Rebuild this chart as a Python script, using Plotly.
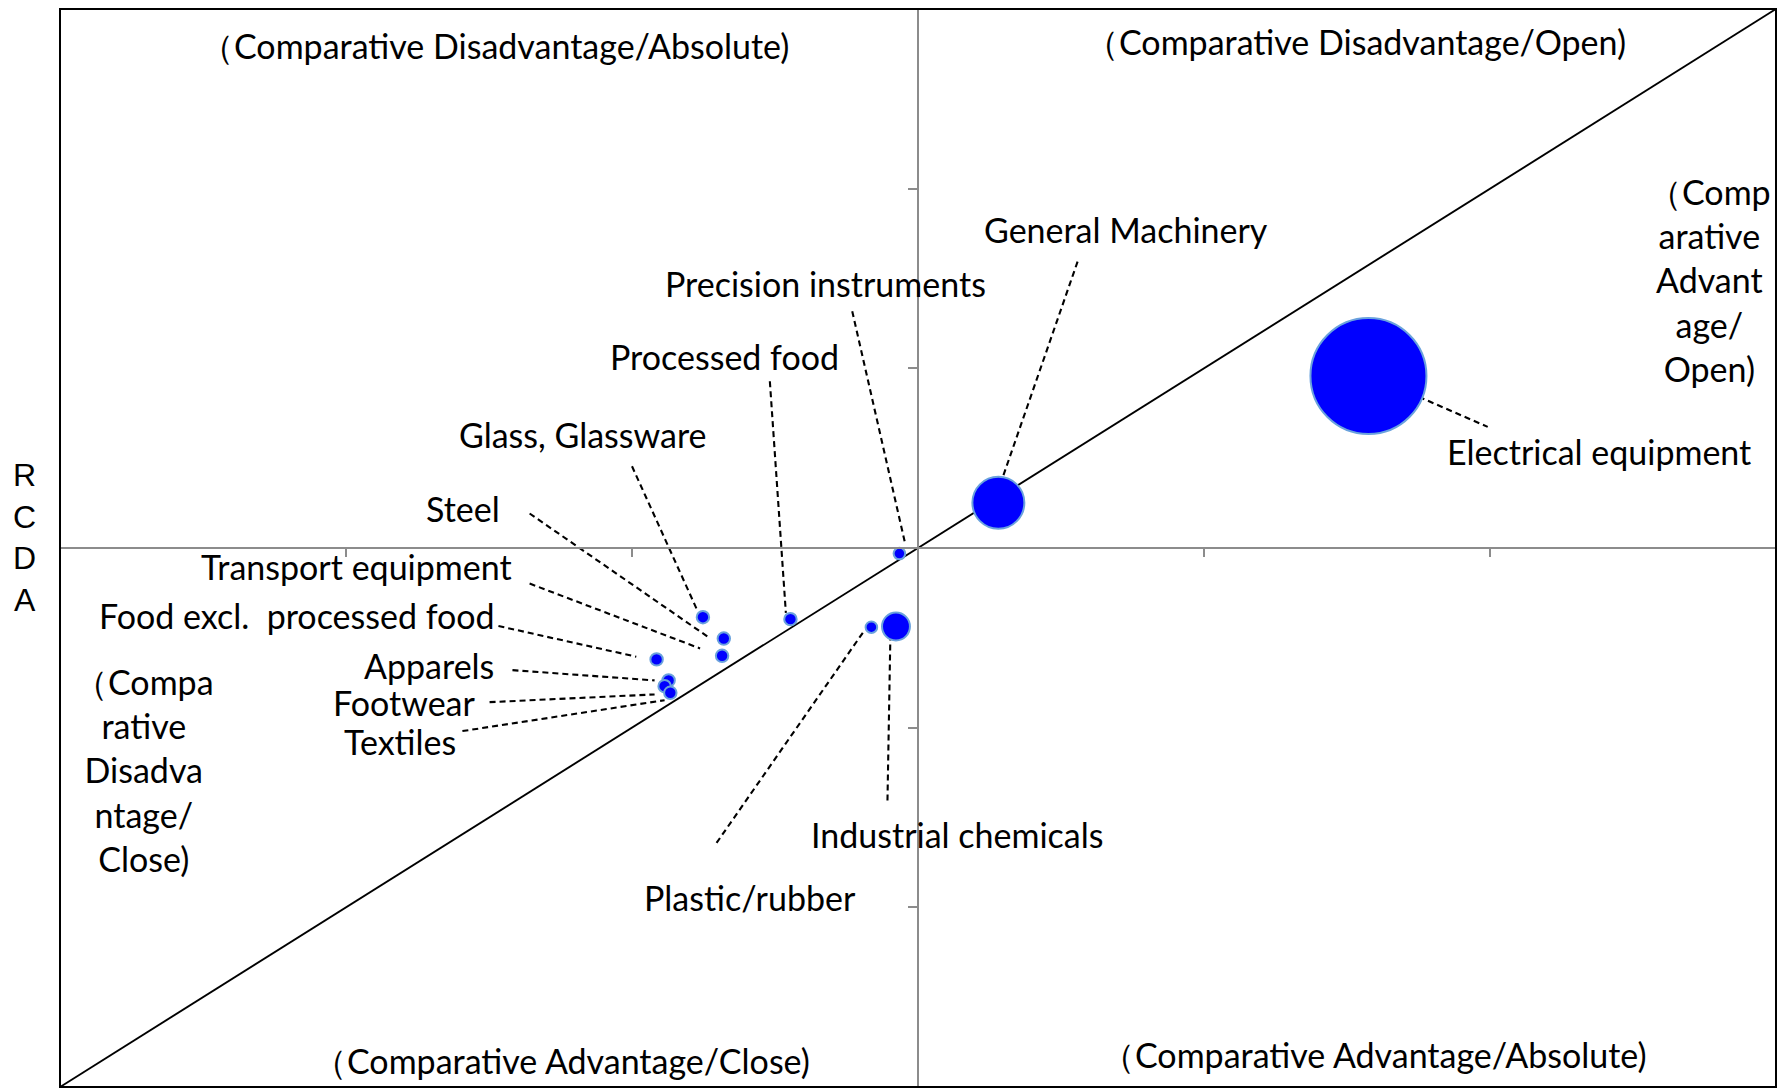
import plotly.graph_objects as go

# ---------------- data ----------------
industries = ["General Machinery", "Precision instruments", "Processed food", "Glass, Glassware",
              "Steel", "Transport equipment", "Food excl.  processed food", "Apparels",
              "Footwear", "Textiles", "Industrial chemicals", "Plastic/rubber", "Electrical equipment"]
rca = [0.281, -0.065, -0.446, -0.752, -0.679, -0.685, -0.914, -0.872, -0.886, -0.866, -0.077, -0.163, 1.575]
rcda = [0.252, -0.031, -0.396, -0.385, -0.504, -0.600, -0.620, -0.737, -0.769, -0.806, -0.437, -0.441, 0.957]
trade_value = [20.1, 1.0, 1.15, 1.15, 1.15, 1.15, 1.15, 1.15, 1.15, 1.15, 5.8, 1.0, 100.0]

# label placement (data coords) and anchors
label_x = [0.726, -0.325, -0.677, -1.171, -1.456, -1.412, -1.472, -1.477, -1.537, -1.608, 0.135, -0.586, 2.381]
label_y = [1.770, 1.472, 1.066, 0.633, 0.220, -0.103, -0.376, -0.654, -0.860, -1.075, -1.594, -1.945, 0.537]
label_anchor = ["center", "center", "center", "center", "right", "right", "right", "right",
                "right", "right", "center", "center", "center"]
# leader lines: start (near label) -> end (near bubble)
lead_x0 = [0.558, -0.230, -0.518, -1.000, -1.358, -1.358, -1.467, -1.418, -1.498, -1.593, -0.0965, -0.193, 1.719]
lead_y0 = [1.594, 1.318, 0.928, 0.455, 0.192, -0.198, -0.434, -0.680, -0.858, -1.019, -0.481, -0.472, 0.864]
lead_x1 = [0.285, -0.046, -0.462, -0.772, -0.735, -0.762, -0.985, -0.921, -0.921, -0.886, -0.107, -0.712, 1.992]
lead_y1 = [0.342, 0.032, -0.361, -0.346, -0.494, -0.559, -0.605, -0.737, -0.815, -0.847, -1.427, -1.659, 0.674]

quadrant_text = ["（Comparative Disadvantage/Absolute)", "（Comparative Disadvantage/Open)",
                 "（Comparative Advantage/Close)", "（Comparative Advantage/Absolute)",
                 "（Comp<br>arative<br>Advant<br>age/<br>Open)",
                 "（Compa<br>rative<br>Disadva<br>ntage/<br>Close)"]
quadrant_x = [-1.480, 1.531, -1.245, 1.596, 2.768, -2.705]
quadrant_y = [2.799, 2.819, -2.852, -2.819, 1.489, -1.233]

axis_range = [-3, 3]
tick_vals = [-2, -1, 1, 2]

FONT = "Lato, 'Open Sans', sans-serif"
FS = 34

fig = go.Figure()

# diagonal 45-degree line
fig.add_trace(go.Scatter(x=axis_range, y=axis_range, mode="lines",
                         line=dict(color="black", width=1.9), hoverinfo="skip", showlegend=False))

# leader lines
for i in range(len(industries)):
    fig.add_trace(go.Scatter(x=[lead_x0[i], lead_x1[i]], y=[lead_y0[i], lead_y1[i]], mode="lines",
                             line=dict(color="black", width=2.1, dash="6px,4px"),
                             hoverinfo="skip", showlegend=False))

max_d = 116
fig.add_trace(go.Scatter(
    x=rca, y=rcda, mode="markers", text=industries, showlegend=False,
    marker=dict(size=trade_value, sizemode="area", sizeref=2 * max(trade_value) / max_d ** 2,
                color="#0000ff", line=dict(color="#6aa2dd", width=2), opacity=1),
    hovertemplate="%{text}<br>RCA %{x}<br>RCDA %{y}<extra></extra>"))

annotations = []
for i, name in enumerate(industries):
    annotations.append(dict(x=label_x[i], y=label_y[i], xref="x", yref="y", text=name,
                            showarrow=False, xanchor=label_anchor[i], yanchor="middle",
                            font=dict(family=FONT, size=FS, color="black")))
for t, qx, qy in zip(quadrant_text, quadrant_x, quadrant_y):
    annotations.append(dict(x=qx, y=qy, xref="x", yref="y", text=t, showarrow=False,
                            xanchor="center", yanchor="middle", align="center",
                            font=dict(family=FONT, size=FS, color="black")))
# y-axis title stacked letters
annotations.append(dict(x=-0.0207, y=0.5097, xref="paper", yref="paper", text="R<br>C<br>D<br>A",
                        showarrow=False, xanchor="center", yanchor="middle", align="center",
                        font=dict(family="Liberation Sans, Arial, sans-serif", size=32, color="black")))

fig.update_layout(
    width=1781, height=1080,
    margin=dict(l=52, r=13, t=1, b=1),
    paper_bgcolor="white", plot_bgcolor="white",
    annotations=annotations,
    xaxis=dict(range=axis_range, anchor="free", position=0.5, showline=True, linecolor="#8c8c8c",
               linewidth=2, ticks="outside", ticklen=8, tickwidth=1.5, tickcolor="#8c8c8c",
               tickvals=tick_vals, showticklabels=False, showgrid=False, zeroline=False),
    yaxis=dict(range=axis_range, anchor="free", position=0.5, showline=True, linecolor="#8c8c8c",
               linewidth=2, ticks="outside", ticklen=9, tickwidth=1.5, tickcolor="#8c8c8c",
               tickvals=tick_vals, showticklabels=False, showgrid=False, zeroline=False),
    shapes=[dict(type="rect", xref="paper", yref="paper", x0=0, y0=0, x1=1, y1=1,
                 line=dict(color="black", width=2), layer="above")],
)

fig.write_html("out.html")
